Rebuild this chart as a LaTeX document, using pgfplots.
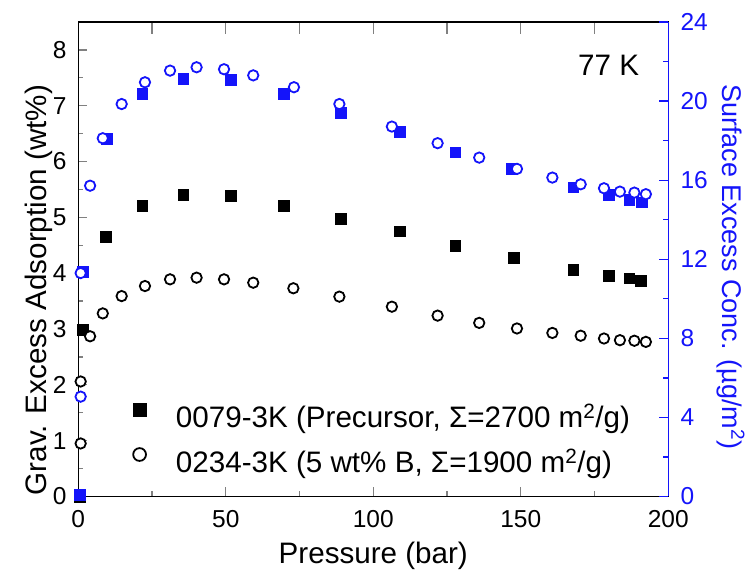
\documentclass[border=0pt]{standalone}
\usepackage{fontspec}
\setmainfont{Liberation Sans}
\usepackage{pgfplots}
\pgfplotsset{compat=1.18}
\definecolor{myblue}{RGB}{20,20,250}
\newcommand{\tickfont}{\fontsize{24.5bp}{28bp}\selectfont}
\newcommand{\labfont}{\fontsize{29.6bp}{34bp}\selectfont}
\newcommand{\rlabfont}{\fontsize{27bp}{31bp}\selectfont}
\pgfplotsset{
  base/.style={
    scale only axis, width=590bp, height=474.5bp,
    xmin=0, xmax=200,
    tick align=inside,
    major tick length=9bp, minor tick length=5bp,
    every tick/.append style={line width=1.3bp},
    axis line style={line width=1.5bp},
    /pgf/number format/assume math mode=true,
    tick label style={font=\tickfont},
  }
}
\begin{document}
\begin{tikzpicture}
% left axis (grav. excess)
\begin{axis}[base, name=main,
  ymin=0, ymax=8.5,
  xtick pos=bottom, ytick pos=left,
  xtick={0,50,...,200}, minor xtick={25,75,125,175},
  ytick={0,1,...,8}, minor ytick={0.5,1.5,...,7.5},
  xticklabel style={anchor=north, inner sep=0pt, yshift=-13.5bp},
  yticklabel style={anchor=east, inner sep=0pt, xshift=-11.5bp},
  every axis x label/.style={at={([yshift=-67.5bp]axis description cs:0.5,0)}, anchor=base, font=\labfont},
  every axis y label/.style={at={([xshift=-32bp]axis description cs:0,0.435)}, rotate=90, anchor=base, font=\labfont},
  xlabel={Pressure (bar)},
  ylabel={Grav. Excess Adsorption (wt\%)},
  legend style={draw=none, fill=none, inner sep=0pt, font=\labfont,
    at={(axis description cs:0.0927,0.197)}, anchor=north west,
    row sep=13bp, column sep=30bp,
    nodes={inner sep=0pt, text height=22bp, text depth=8bp}},
  legend cell align=left,
  legend image code/.code={\draw[#1, mark size=6.4bp] plot coordinates {(0bp,10.5bp)};},
]
\addplot[only marks, mark=square*, mark size=5.4bp, black, mark options={line width=0.6bp}] coordinates {
(0.5,0.0)(1.5,2.98)(9.4,4.65)(21.7,5.21)(35.6,5.41)(51.8,5.39)(69.7,5.21)(88.9,4.97)(109,4.75)(127.8,4.49)(147.6,4.28)(167.8,4.06)(179.9,3.95)(186.8,3.91)(190.7,3.86)};
\addlegendentry{0079-3K (Precursor, Σ=2700 m\textsuperscript{2}/g)}
\addplot[only marks, mark=*, mark size=5.2bp, black, mark options={line width=1.8bp, fill=white, draw=black}] coordinates {
(0.8,0.95)(0.8,2.06)(4.0,2.87)(8.3,3.28)(14.7,3.59)(22.6,3.77)(31.1,3.89)(40.1,3.92)(49.4,3.89)(59.3,3.83)(72.9,3.73)(88.5,3.58)(106.3,3.40)(121.8,3.24)(135.9,3.11)(148.7,3.01)(160.7,2.93)(170.3,2.88)(178.2,2.83)(183.6,2.80)(188.5,2.79)(192.4,2.77)};
\addlegendentry{0234-3K (5 wt\% B, Σ=1900 m\textsuperscript{2}/g)}
\node[anchor=base west, font=\labfont, inner sep=0pt] at (axis description cs:0.847,0.888) {77 K};
\end{axis}
% top axis (pore width ticks)
\begin{axis}[base,
  ymin=0, ymax=1, hide y axis,
  axis x line*=top,
  xtick={25,50,...,175}, xticklabels={}, minor xtick={},
  major tick length=12bp,
]
\node[anchor=base, font=\labfont, inner sep=0pt] at ([yshift=14bp]axis description cs:0.596,1) {Pore Width (Å)};
\end{axis}
% right axis (surface excess)
\begin{axis}[base,
  ymin=0, ymax=24,
  axis y line*=right, axis x line=none,
  ytick={0,4,...,24}, minor ytick={2,6,...,22},
  y axis line style={myblue, line width=1.5bp},
  tick style={myblue},
  yticklabel style={anchor=west, inner sep=0pt, xshift=12bp, text=myblue},
  every axis y label/.style={at={([xshift=54bp]axis description cs:1,0.484)}, rotate=-90, anchor=base, font=\rlabfont, text=myblue},
  ylabel={Surface Excess Conc. (µg/m\textsuperscript{2})},
]
\addplot[only marks, mark=square*, mark size=5.4bp, myblue, mark options={line width=0.6bp}] coordinates {
(0.5,0.1)(1.5,11.37)(9.6,18.08)(21.7,20.36)(35.6,21.12)(51.8,21.07)(69.7,20.36)(88.9,19.41)(109,18.44)(127.8,17.41)(146.9,16.57)(167.8,15.64)(179.9,15.25)(186.8,15.0)(191,14.88)};
\addplot[only marks, mark=*, mark size=5.2bp, myblue, mark options={line width=1.8bp, fill=white, draw=myblue}] coordinates {
(0.8,5.05)(0.8,11.3)(4.0,15.72)(8.3,18.12)(14.7,19.85)(22.6,20.95)(31.1,21.54)(40.1,21.71)(49.4,21.61)(59.3,21.3)(73.1,20.70)(88.5,19.85)(106.3,18.71)(121.8,17.87)(135.9,17.14)(148.7,16.57)(160.7,16.13)(170.3,15.79)(178.2,15.59)(183.6,15.42)(188.5,15.37)(192.4,15.29)};
\end{axis}
\pgfresetboundingbox
\path[use as bounding box] ([shift={(-78.3bp,-84.5bp)}]main.south west) rectangle ([shift={(84.7bp,22bp)}]main.north east);
\end{tikzpicture}
\end{document}
